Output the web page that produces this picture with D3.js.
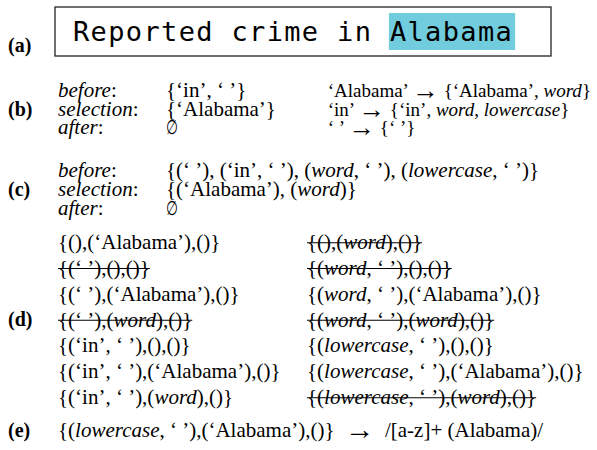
<!DOCTYPE html>
<html>
<head>
<meta charset="utf-8">
<script src="https://cdn.jsdelivr.net/npm/d3@7/dist/d3.min.js"></script>
<style>
  body { margin: 0; background: #fff; }
  text { white-space: pre; }
</style>
</head>
<body>
<div id="fig"></div>
<script>
/*
  Selection / generalisation figure, panels (a)-(e)
*/

var width = 597, height = 450;
var serif = "'Liberation Serif', 'Times New Roman', serif",
    mono = "'DejaVu Sans Mono', monospace",
    fontSize = 21,
    rightEdge = 591;

// panel letters
var panelLabels = ["(a)", "(b)", "(c)", "(d)", "(e)"];

// (a) the query, with the selected span
var queryText = "Reported crime in Alabama";
var selStart = 18, selEnd = 25;

// (b) token sets and token -> feature maps
var keyLabels = ["*before*:", "*selection*:", "*after*:"];
var bSets = ["{‘in’, ‘ ’}", "{‘Alabama’}", "∅"];
var bMaps = [
  "‘Alabama’ → {‘Alabama’, *word*}",
  "‘in’ → {‘in’, *word*, *lowercase*}",
  "‘ ’ → {‘ ’}"
];

// (c) feature sequences
var cSets = [
  "{(‘ ’), (‘in’, ‘ ’), (*word*, ‘ ’), (*lowercase*, ‘ ’)}",
  "{(‘Alabama’), (*word*)}",
  "∅"
];

// (d) candidate patterns, left and right column, struck = rejected
var dLeft = [
  "{(),(‘Alabama’),()}",
  "{(‘ ’),(),()}",
  "{(‘ ’),(‘Alabama’),()}",
  "{(‘ ’),(*word*),()}",
  "{(‘in’, ‘ ’),(),()}",
  "{(‘in’, ‘ ’),(‘Alabama’),()}",
  "{(‘in’, ‘ ’),(*word*),()}"
];
var dLeftStruck = [false, true, false, true, false, false, false];
var dRight = [
  "{(),(*word*),()}",
  "{(*word*, ‘ ’),(),()}",
  "{(*word*, ‘ ’),(‘Alabama’),()}",
  "{(*word*, ‘ ’),(*word*),()}",
  "{(*lowercase*, ‘ ’),(),()}",
  "{(*lowercase*, ‘ ’),(‘Alabama’),()}",
  "{(*lowercase*, ‘ ’),(*word*),()}"
];
var dRightStruck = [true, true, false, true, false, false, true];

// (e) final rule
var eRule = "{(*lowercase*, ‘ ’),(‘Alabama’),()}\u2002→\u2002/[a-z]+ (Alabama)/";

var svg = d3.select("#fig").append("svg")
  .attr("width", width)
  .attr("height", height)
  .style("display", "block");

// writes a string, *...* parts in italics, arrows drawn larger; returns the text selection
function richText(parent, str, x, y, size){
  size = size || fontSize;
  if(str === "∅"){
    // narrow empty-set sign, like \emptyset
    return parent.append("text")
      .attr("transform", "translate(" + x + "," + y + ") scale(0.72,1.05)")
      .style("font-family", "'DejaVu Sans'")
      .style("font-size", (size - 2) + "px")
      .style("fill", "#000")
      .text(str);
  }
  var t = parent.append("text")
    .attr("x", x)
    .attr("y", y)
    .style("font-family", serif)
    .style("font-size", size + "px")
    .style("fill", "#000");
  str.split("*").forEach(function(part, i){
    if(part === "") return;
    part.split(/(→)/).forEach(function(p){
      if(p === "") return;
      var ts = t.append("tspan")
        .style("font-style", i % 2 ? "italic" : "normal")
        .text(p);
      if(p === "→") ts.style("font-size", (size * 1.4) + "px").attr("baseline-shift", "-1.5px");
    });
  });
  return t;
}

function strike(parent, t, x, y){
  var len = t.node().getComputedTextLength();
  parent.append("line")
    .attr("x1", x).attr("x2", x + len)
    .attr("y1", y - fontSize * 0.3).attr("y2", y - fontSize * 0.3)
    .style("stroke", "#000")
    .style("stroke-width", 1.1);
}

// panel letters
var labelY = d3.scaleOrdinal().domain(panelLabels).range([52, 115.5, 196, 326, 437]);
svg.selectAll(".panel")
  .data(panelLabels)
  .enter().append("text")
  .attr("class", "panel")
  .attr("x", 8)
  .attr("y", function(d){ return labelY(d); })
  .style("font-family", serif)
  .style("font-size", "20px")
  .style("font-weight", "bold")
  .text(function(d){ return d; });

//(a) query box
var gA = svg.append("g");
gA.append("rect")
  .attr("x", 55).attr("y", 7)
  .attr("width", 496).attr("height", 49)
  .style("fill", "#fff")
  .style("stroke", "#222")
  .style("stroke-width", 1.3);

var hl = gA.append("rect")
  .style("fill", "#71cddd");

var q = gA.append("text")
  .attr("x", 73)
  .attr("y", 41)
  .style("font-family", mono)
  .style("font-size", "27px")
  .style("letter-spacing", "1.35px")
  .style("fill", "#000")
  .text(queryText);

var x0 = q.node().getStartPositionOfChar(selStart).x,
    x1 = q.node().getStartPositionOfChar(selEnd - 1).x + q.node().getExtentOfChar(selEnd - 1).width;
hl.attr("x", x0 - 1).attr("y", 13)
  .attr("width", x1 - x0 + 3).attr("height", 37);
q.raise();

//(b) and (c) key/value tables
var rowB = d3.scaleLinear().domain([0, 2]).range([97, 134]);
var rowC = d3.scaleLinear().domain([0, 2]).range([177, 215]);

var mapTexts = [];
keyLabels.forEach(function(k, i){
  richText(svg, k, 58, rowB(i));
  richText(svg, bSets[i], 166, rowB(i));
  mapTexts.push(richText(svg, bMaps[i], 331, rowB(i), 19));

  richText(svg, k, 58, rowC(i));
  richText(svg, cSets[i], 166, rowC(i));
});

// keep the map column inside the right margin
var mapLen = d3.max(mapTexts, function(t){ return t.node().getComputedTextLength(); });
var mapX = Math.min(331, rightEdge - mapLen);
mapTexts.forEach(function(t){ t.attr("x", mapX); });

//(d) candidate patterns
var rowD = d3.scaleLinear().domain([0, 6]).range([249, 404]);
var colD = d3.scaleOrdinal().domain(["left", "right"]).range([58, 307]);

[[dLeft, dLeftStruck, "left"], [dRight, dRightStruck, "right"]].forEach(function(col){
  col[0].forEach(function(s, i){
    var x = colD(col[2]), y = rowD(i);
    var t = richText(svg, s, x, y);
    if(col[1][i]) strike(svg, t, x, y);
  });
});

//(e) rule
richText(svg, eRule, 58, labelY("(e)"));
</script>
</body>
</html>
